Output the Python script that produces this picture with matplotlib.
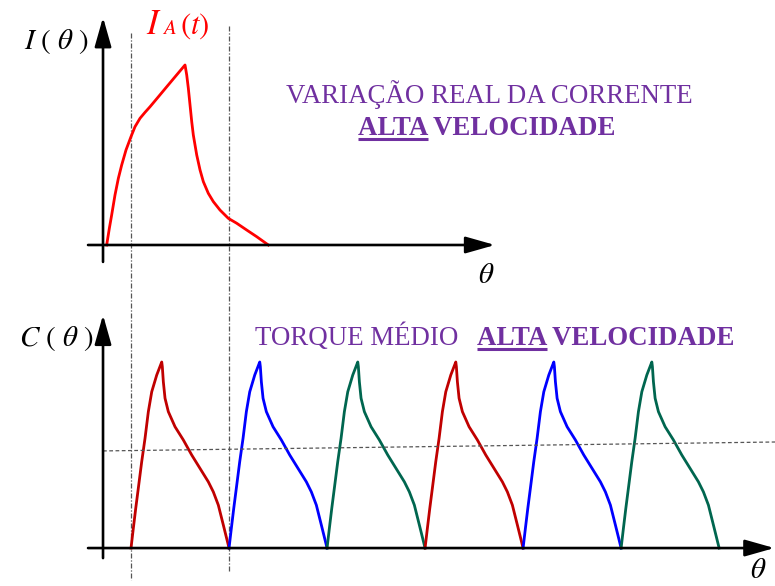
import matplotlib
matplotlib.use("Agg")
import matplotlib.pyplot as plt
import numpy as np

plt.rcParams['mathtext.fontset'] = 'stix'
plt.rcParams['font.family'] = ['Liberation Serif', 'DejaVu Serif']

# ---------------- data ----------------
# current pulse I_A(theta) (theta in degrees, normalised current)
theta_i = [-7.45, -6.63, -5.92, -4.90, -3.88, -2.86, -1.53, 0.0, 1.22, 2.76, 4.29, 5.82,
           8.36, 10.93, 13.47, 16.53,
           17.05, 17.54, 18.06, 18.58, 19.07, 20.11, 21.12, 22.13, 23.66, 25.19, 27.24,
           29.79, 32.33, 35.42, 38.48, 42.03]
corrente = [0.0, 0.093, 0.167, 0.278, 0.370, 0.444, 0.528, 0.602, 0.657, 0.704, 0.737, 0.768,
            0.823, 0.879, 0.934, 1.0,
            0.944, 0.871, 0.778, 0.685, 0.611, 0.5, 0.417, 0.352, 0.287, 0.241, 0.194,
            0.148, 0.121, 0.083, 0.046, 0.0]

# single torque pulse (theta relative to pulse start, normalised torque)
theta_c = [0.0, 0.70, 1.44, 2.23, 3.27, 4.29, 5.30, 6.34, 7.87, 9.40, 9.58, 9.89, 10.41,
           11.42, 13.47, 16.01, 18.58, 21.12, 23.66, 25.19, 26.72, 28.25, 30.0]
torque = [0.0, 0.105, 0.213, 0.321, 0.464, 0.590, 0.733, 0.840, 0.930, 1.0, 0.975, 0.894,
          0.805, 0.733, 0.652, 0.581, 0.5, 0.428, 0.356, 0.302, 0.231, 0.124, 0.0]

# start of each phase pulse (degrees) and colours
inicio_fases = [0, 30, 60, 90, 120, 150]
cores_fases = ['#C00000', '#0000FF', '#00664F', '#C00000', '#0000FF', '#00664F']

# average torque line (start / end)
torque_medio = [0.522, 0.570]

# markers of conduction window (degrees)
janela = [0, 30]

W, H = 775, 586
fig = plt.figure(figsize=(W / 100, H / 100), dpi=100)

XL = (-40.1, 197.1)
THETA_AX = -8.57      # position of vertical axes
THETA_X0 = -13.16     # left start of horizontal axes

purple = '#7030A0'

def fx(x):
    return x / W

def fy(y):
    return 1 - y / H

# overlay for vertical dotted lines (y in pixels)
axo = fig.add_axes([0, 0, 1, 1])
axo.set_xlim(*XL)
axo.set_ylim(H, 0)
axo.axis('off')
axo.plot([janela[0]] * 2, [33, 580], color='#555555', lw=0.9, ls=(0, (4, 1.5, 1, 1.5)))
axo.plot([janela[1]] * 2, [26, 572], color='#555555', lw=0.9, ls=(0, (4, 1.5, 1, 1.5)))

arrow = dict(arrowstyle='-|>,head_length=0.6,head_width=0.17', lw=1.9, color='black',
             mutation_scale=30, shrinkA=0, shrinkB=0)

# ---------------- top panel ----------------
ax1 = fig.add_axes([0, 1 - 290 / H, 1, 290 / H])
ax1.set_xlim(*XL)
ax1.set_ylim(-0.25, 1.361)
ax1.axis('off')
ax1.patch.set_alpha(0)
ax1.annotate('', xy=(THETA_AX, 1.265), xytext=(THETA_AX, -0.094), arrowprops=arrow)
ax1.annotate('', xy=(111.4, 0), xytext=(THETA_X0, 0), arrowprops=arrow)
ax1.plot(theta_i, corrente, color='#FF0000', lw=2.0, solid_joinstyle='round')

# ---------------- bottom panel ----------------
ax2 = fig.add_axes([0, 0, 1, 1 - 290 / H])
ax2.set_xlim(*XL)
ax2.set_ylim(-0.204, 1.387)
ax2.axis('off')
ax2.patch.set_alpha(0)
ax2.annotate('', xy=(THETA_AX, 1.253), xytext=(THETA_AX, -0.054), arrowprops=arrow)
ax2.annotate('', xy=(196.9, 0), xytext=(THETA_X0, 0), arrowprops=arrow)
for t0, cor in zip(inicio_fases, cores_fases):
    ax2.plot(np.array(theta_c) + t0, torque, color=cor, lw=2.0, solid_joinstyle='round')
ax2.plot([THETA_AX, XL[1]], torque_medio, color='#555555', lw=0.9, ls=(0, (3, 2)))

# ---------------- texts ----------------
fig.text(fx(24), fy(49), r'$I\ (\ \theta\ )$', fontsize=21, ha='left', va='baseline')
fig.text(fx(19), fy(346), r'$C\ (\ \theta\ )$', fontsize=21, ha='left', va='baseline')
fig.text(fx(478), fy(283), r'$\theta$', fontsize=21, ha='left', va='baseline')
fig.text(fx(750), fy(578), r'$\theta$', fontsize=21, ha='left', va='baseline')

fig.text(fx(146), fy(34), r'$I$', fontsize=25, color='#FF0000', ha='left', va='baseline')
fig.text(fx(162), fy(34), r'$A$', fontsize=15, color='#FF0000', ha='left', va='baseline')
fig.text(fx(180), fy(34), r'$(t)$', fontsize=22, color='#FF0000', ha='left', va='baseline')

fig.text(fx(489), fy(103), 'VARIAÇÃO REAL DA CORRENTE', fontsize=19.4, color=purple,
         ha='center', va='baseline')
fig.text(fx(255), fy(345), 'TORQUE MÉDIO', fontsize=19.4, color=purple,
         ha='left', va='baseline')

labels = []
for x0, yb in [(358, 135), (477, 345)]:
    fig.text(fx(x0), fy(yb), 'ALTA VELOCIDADE', fontsize=19.4, color=purple,
             fontweight='bold', ha='left', va='baseline')
    t_alta = fig.text(fx(x0), fy(yb), 'ALTA', fontsize=19.4, color=purple,
                      fontweight='bold', ha='left', va='baseline', alpha=0)
    labels.append((t_alta, yb))

fig.canvas.draw()
r = fig.canvas.get_renderer()
for t_alta, yb in labels:
    bb = t_alta.get_window_extent(r)
    axo.plot([bb.x0 / W * (XL[1] - XL[0]) + XL[0], bb.x1 / W * (XL[1] - XL[0]) + XL[0]],
             [yb + 4, yb + 4], color=purple, lw=2.2, solid_capstyle='butt')

fig.savefig('out.png', dpi=100)
